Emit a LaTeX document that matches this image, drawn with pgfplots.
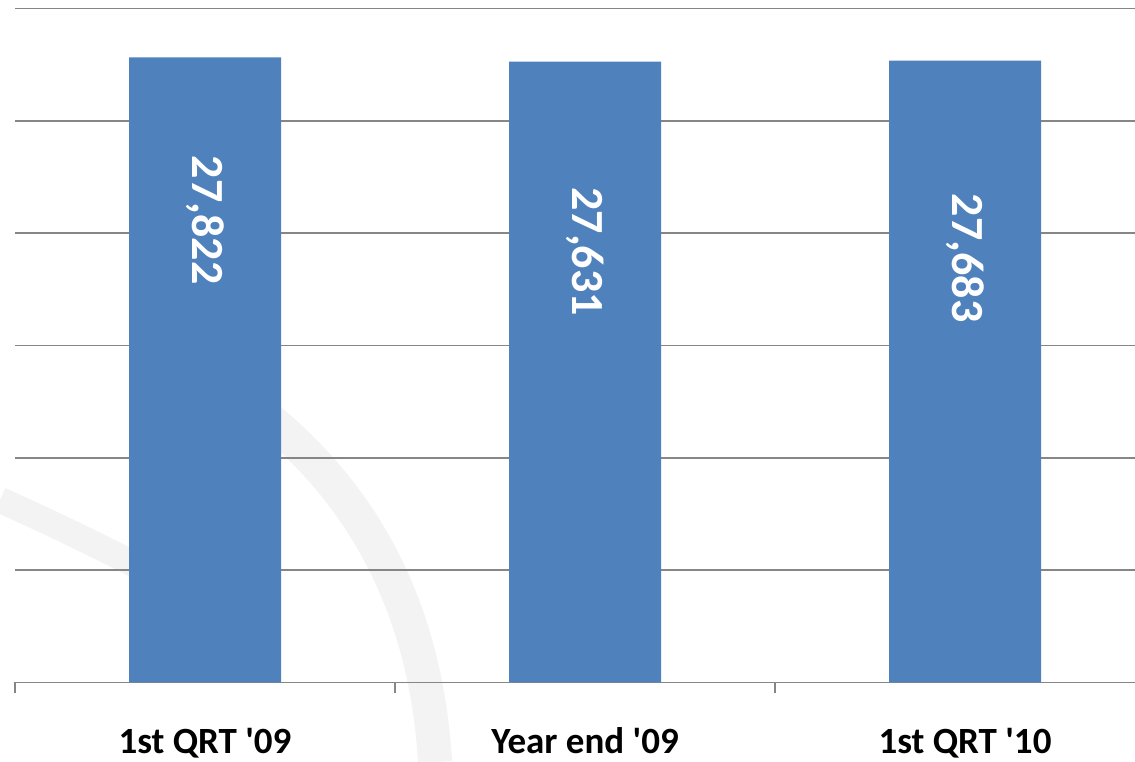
\documentclass[border=0pt]{standalone}
\usepackage{pgfplots}
\pgfplotsset{compat=1.18}
\usepackage{fontspec}
\setmainfont{Carlito}
\definecolor{barblue}{RGB}{79,129,189}
\definecolor{gridgray}{RGB}{134,134,134}
\definecolor{wm}{RGB}{243,243,243}
\begin{document}
\begin{tikzpicture}[x=1bp,y=1bp]
\useasboundingbox (0,0) rectangle (1135,762);
\clip (0,0) rectangle (1135,762);
\draw[wm, line width=34bp] (230,372) .. controls (350,290) and (425,170) .. (435,0);
\draw[wm, line width=26bp] (0,262) .. controls (50,240) and (100,215) .. (140,195);
\begin{axis}[
  at={(15bp,79.5bp)}, anchor=south west,
  scale only axis, width=1140bp, height=674bp,
  xmin=-0.5, xmax=2.5, ymin=0, ymax=30000,
  ytick={0,5000,...,30000}, ymajorgrids,
  yticklabel=\empty,
  major grid style={gridgray, line width=1.5bp},
  axis x line*=bottom, axis y line*=left,
  y axis line style={draw=none}, ytick style={draw=none},
  x axis line style={gridgray, line width=1.5bp},
  xtick={0,1,2},
  xticklabels={1st QRT \textquotesingle 09, Year end \textquotesingle 09, 1st QRT \textquotesingle 10},
  major x tick style={draw=none}, major tick length=0pt,
  minor xtick={-0.5,0.5,1.5,2.5}, minor tick length=11bp,
  minor x tick style={gridgray, line width=1.5bp},
  tick align=outside,
  xticklabel style={font=\fontsize{37bp}{40bp}\selectfont\bfseries, anchor=base, yshift=-71.5bp},
  clip=false,
]
\addplot[ybar, fill=barblue, draw=none, bar width=0.4] coordinates {(0,27822) (1,27631) (2,27683)};
\node[rotate=-90, text=white, font=\fontsize{46bp}{48bp}\selectfont\bfseries] at (axis cs:0,20580) {27,822};
\node[rotate=-90, text=white, font=\fontsize{46bp}{48bp}\selectfont\bfseries] at (axis cs:1,19180) {27,631};
\node[rotate=-90, text=white, font=\fontsize{46bp}{48bp}\selectfont\bfseries] at (axis cs:2,18890) {27,683};
\end{axis}
\end{tikzpicture}
\end{document}
